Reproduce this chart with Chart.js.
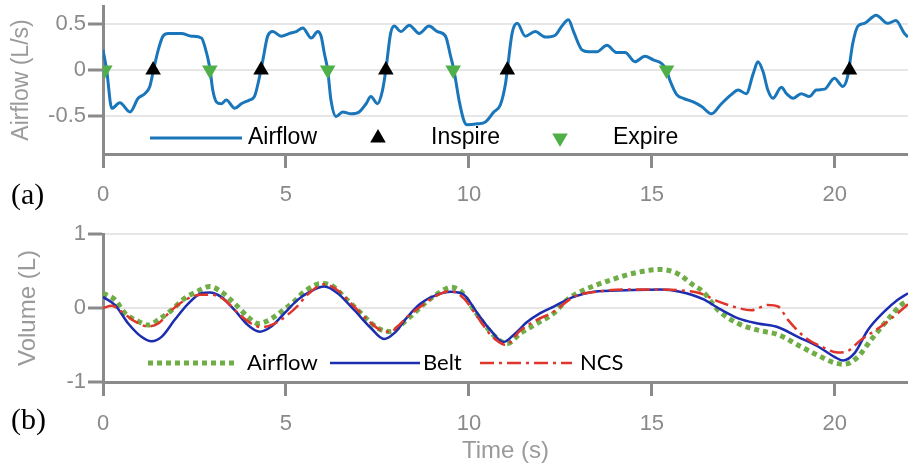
<!DOCTYPE html>
<html>
<head>
<meta charset="utf-8">
<script src="https://cdn.jsdelivr.net/npm/chart.js@4.4.0/dist/chart.umd.min.js"></script>
<style>
  html, body { margin: 0; padding: 0; background: #fff; }
  #wrap { position: relative; width: 908px; height: 468px; overflow: hidden; }
  canvas { position: absolute; left: 0; }
  #top { top: 0; }
  #bottom { top: 215px; }
  .panel { position: absolute; left: 11px; font-family: "Liberation Serif", "Times New Roman", serif; font-size: 30px; line-height: 1; color: #000; }
</style>
</head>
<body>
<div id="wrap">
  <canvas id="top" width="908" height="215"></canvas>
  <canvas id="bottom" width="908" height="253"></canvas>
  <div class="panel" style="top:179px">(a)</div>
  <div class="panel" style="top:404px">(b)</div>
</div>
<script>
// (a) airflow, L/s
const flowTime = [0, 0.1, 0.24, 0.46, 0.74, 0.96, 1.14, 1.28, 1.37, 1.51, 1.64, 1.78, 2.14, 2.42, 2.69, 2.78, 2.92,
  3.0, 3.1, 3.23, 3.37, 3.6, 3.78, 4.0, 4.14, 4.28, 4.37, 4.5, 4.64, 4.87, 5.1, 5.28, 5.46, 5.69, 5.87, 5.96,
  6.05, 6.14, 6.23, 6.37, 6.55, 6.78, 7.0, 7.19, 7.32, 7.5, 7.64, 7.73, 7.86, 7.96, 8.14, 8.37, 8.64, 8.91,
  9.14, 9.36, 9.5, 9.59, 9.73, 9.86, 9.95, 10.23, 10.45, 10.68, 10.86, 11.0, 11.05, 11.18, 11.32, 11.54, 11.81,
  12.09, 12.36, 12.54, 12.72, 12.86, 13.09, 13.27, 13.5, 13.77, 14.04, 14.27, 14.54, 14.81, 15.04, 15.27, 15.4,
  15.49, 15.68, 15.86, 16.13, 16.36, 16.63, 16.9, 17.17, 17.36, 17.58, 17.77, 17.9, 18.04, 18.17, 18.31, 18.54,
  18.68, 18.86, 19.08, 19.31, 19.49, 19.72, 19.99, 20.22, 20.35, 20.49, 20.63, 20.81, 21.13, 21.44, 21.67, 21.9, 22.0];
const flowValues = [0.22, 0.0, -0.42, -0.36, -0.46, -0.31, -0.26, -0.18, -0.02, 0.22, 0.37, 0.40, 0.40, 0.37, 0.35, 0.26, 0.02,
  -0.22, -0.35, -0.37, -0.33, -0.42, -0.37, -0.33, -0.29, -0.07, 0.11, 0.37, 0.42, 0.37, 0.40, 0.42, 0.46, 0.35, 0.42, 0.37,
  0.18, 0.0, -0.33, -0.51, -0.46, -0.48, -0.46, -0.37, -0.29, -0.37, -0.22, 0.0, 0.40, 0.48, 0.42, 0.49, 0.40, 0.48,
  0.42, 0.37, 0.15, 0.0, -0.33, -0.55, -0.60, -0.59, -0.57, -0.46, -0.38, -0.15, 0.0, 0.40, 0.51, 0.37, 0.42,
  0.36, 0.38, 0.48, 0.55, 0.42, 0.22, 0.20, 0.20, 0.27, 0.19, 0.19, 0.09, 0.15, 0.11, 0.07, 0.0,
  -0.11, -0.27, -0.31, -0.35, -0.40, -0.48, -0.37, -0.27, -0.22, -0.26, -0.04, 0.09, -0.02, -0.22, -0.31, -0.19,
  -0.26, -0.31, -0.26, -0.29, -0.22, -0.21, -0.09, -0.18, -0.07, 0.29, 0.48, 0.51, 0.60, 0.51, 0.54, 0.40, 0.36];
const inspireTime = [1.37, 4.32, 7.73, 11.05, 20.4];
const inspireValues = [0, 0, 0, 0, 0];
const expireTime = [0.05, 2.92, 6.14, 9.57, 15.4];
const expireValues = [0, 0, 0, 0, 0];

// (b) volume, L
const airVolTime = [0, 0.33, 0.6, 0.96, 1.23, 1.51, 1.87, 2.23, 2.6, 2.92, 3.23, 3.6, 3.96, 4.23, 4.55, 4.87, 5.23,
  5.5, 5.96, 6.23, 6.59, 7.05, 7.5, 7.87, 8.14, 8.5, 8.86, 9.23, 9.5, 9.77, 10.14, 10.5, 10.82, 11.05, 11.41,
  11.86, 12.32, 12.68, 13.13, 13.77, 14.5, 15.22, 15.68, 16.13, 16.4, 16.81, 17.36, 17.9, 18.45, 18.99, 19.54,
  19.99, 20.26, 20.63, 20.99, 21.44, 21.81, 22.0];
const airVolValues = [0.2, 0.11, -0.07, -0.18, -0.23, -0.16, -0.03, 0.13, 0.23, 0.29, 0.22, 0.06, -0.12, -0.21, -0.16, -0.05, 0.09,
  0.22, 0.33, 0.31, 0.15, -0.07, -0.27, -0.32, -0.23, -0.07, 0.09, 0.22, 0.28, 0.23, -0.03, -0.27, -0.43, -0.48, -0.34,
  -0.21, -0.07, 0.11, 0.24, 0.36, 0.47, 0.52, 0.47, 0.31, 0.22, -0.03, -0.21, -0.30, -0.36, -0.50, -0.64,
  -0.74, -0.76, -0.66, -0.43, -0.16, 0.04, 0.10];
const beltTime = [0, 0.33, 0.69, 1.05, 1.33, 1.6, 1.96, 2.33, 2.69, 2.92, 3.23, 3.6, 3.96, 4.28, 4.6, 4.96, 5.32,
  5.59, 6.05, 6.41, 6.87, 7.32, 7.68, 7.96, 8.32, 8.68, 9.14, 9.5, 9.86, 10.23, 10.59, 10.95, 11.23, 11.59, 11.95,
  12.32, 12.86, 13.41, 14.31, 15.22, 15.77, 16.4, 16.81, 17.36, 17.9, 18.45, 18.99, 19.54, 19.99, 20.22, 20.54,
  20.9, 21.35, 21.72, 22.0];
const beltValues = [0.15, 0.04, -0.21, -0.39, -0.45, -0.39, -0.16, 0.06, 0.2, 0.21, 0.15, -0.03, -0.23, -0.32, -0.25, -0.07, 0.11,
  0.2, 0.29, 0.2, -0.03, -0.27, -0.42, -0.34, -0.12, 0.06, 0.18, 0.22, 0.18, -0.07, -0.3, -0.46, -0.36, -0.19, -0.07,
  0.02, 0.15, 0.22, 0.24, 0.25, 0.22, 0.12, 0.0, -0.14, -0.21, -0.26, -0.39, -0.52, -0.66, -0.71, -0.61,
  -0.3, -0.05, 0.11, 0.2];
const ncsTime = [0, 0.24, 0.51, 0.87, 1.23, 1.51, 1.87, 2.33, 2.69, 2.96, 3.32, 3.69, 4.05, 4.32, 4.69, 5.05, 5.32,
  5.59, 6.05, 6.41, 6.78, 7.23, 7.59, 7.87, 8.05, 8.32, 8.68, 9.05, 9.5, 9.86, 10.23, 10.59, 10.82, 11.0, 11.41,
  11.86, 12.32, 12.86, 13.5, 14.31, 15.22, 15.77, 16.31, 16.81, 17.36, 17.72, 18.17, 18.45, 18.72, 19.17, 19.63,
  20.08, 20.31, 20.72, 21.26, 21.72, 22.0];
const ncsValues = [0.0, 0.03, -0.05, -0.18, -0.25, -0.21, -0.03, 0.13, 0.18, 0.18, 0.11, -0.07, -0.21, -0.26, -0.21, -0.09, 0.03,
  0.18, 0.32, 0.24, 0.06, -0.16, -0.3, -0.32, -0.25, -0.12, 0.02, 0.15, 0.23, 0.13, -0.12, -0.36, -0.46, -0.5, -0.3,
  -0.16, -0.05, 0.15, 0.22, 0.25, 0.25, 0.24, 0.2, 0.09, 0.0, -0.03, 0.04, 0.02, -0.16, -0.39, -0.52,
  -0.6, -0.59, -0.43, -0.25, -0.07, 0.05];

const timeTicks = [0, 5, 10, 15, 20];
const flowTicks = [-0.5, 0, 0.5];
const volumeTicks = [-1, 0, 1];

const GREY = '#8a8a8a';
const SANS = '"Liberation Sans", Arial, sans-serif';

function pts(ts, vs) {
  return ts.map((t, i) => ({ x: t, y: vs[i] }));
}

function triangle(ctx, x, y, r, down, color) {
  const s = down ? -1 : 1;
  ctx.beginPath();
  ctx.moveTo(x, y - s * r);
  ctx.lineTo(x + r * 0.866, y + s * r * 0.5);
  ctx.lineTo(x - r * 0.866, y + s * r * 0.5);
  ctx.closePath();
  ctx.fillStyle = color;
  ctx.fill();
}

// legend drawn inside the plot, matlab style
const panelLegend = {
  id: 'panelLegend',
  afterDatasetsDraw(chart, args, opts) {
    const ctx = chart.ctx;
    const y = opts.y;
    ctx.save();
    opts.items.forEach(it => {
      if (it.mark === 'line') {
        ctx.beginPath();
        ctx.setLineDash(it.dash || []);
        ctx.lineCap = 'butt';
        ctx.strokeStyle = it.color;
        ctx.lineWidth = it.width;
        ctx.moveTo(it.x0, y);
        ctx.lineTo(it.x1, y);
        ctx.stroke();
        ctx.setLineDash([]);
      } else {
        triangle(ctx, it.x0, y, 9, it.mark === 'down', it.color);
      }
      ctx.fillStyle = '#000';
      ctx.font = opts.font;
      ctx.textBaseline = 'middle';
      ctx.textAlign = 'left';
      ctx.fillText(it.text, it.tx, y);
    });
    ctx.restore();
  }
};

function xAxis(height, pad, title) {
  return {
    type: 'linear', min: 0, max: 22,
    afterBuildTicks: s => { s.ticks = timeTicks.map(v => ({ value: v })); },
    afterFit: s => { s.height = height; s.paddingLeft = 0; s.paddingRight = 0; },
    border: { color: GREY, width: 3 },
    grid: { drawOnChartArea: false, tickLength: 14, tickWidth: 3, tickColor: GREY },
    ticks: { color: GREY, font: { family: SANS, size: 22 }, padding: pad, maxRotation: 0 },
    title: title
      ? { display: true, text: title, color: '#9a9a9a', font: { family: SANS, size: 24 }, padding: { top: 0, bottom: 2 } }
      : { display: false }
  };
}

function yAxis(min, max, ticks, title, titleSize, titlePad) {
  return {
    min: min, max: max,
    afterBuildTicks: s => { s.ticks = ticks.map(v => ({ value: v })); },
    afterFit: s => { s.width = 103; s.paddingTop = 0; s.paddingBottom = 0; },
    border: { color: GREY, width: 3 },
    grid: { color: '#e6e6e6', lineWidth: 2, tickLength: 15, tickWidth: 3, tickColor: GREY },
    ticks: { color: GREY, font: { family: SANS, size: 22 }, padding: 2 },
    title: { display: true, text: title, color: '#9a9a9a', font: { family: SANS, size: titleSize }, padding: { top: titlePad } }
  };
}

new Chart(document.getElementById('top'), {
  type: 'line',
  data: {
    datasets: [
      {
        label: 'Airflow', data: pts(flowTime, flowValues), order: 1,
        borderColor: '#1a76bb', borderWidth: 3, pointRadius: 0, cubicInterpolationMode: 'monotone'
      },
      {
        label: 'Inspire', data: pts(inspireTime, inspireValues), order: 0, showLine: false,
        pointStyle: 'triangle', pointRadius: 9, pointBorderWidth: 0, backgroundColor: '#000', borderColor: '#000'
      },
      {
        label: 'Expire', data: pts(expireTime, expireValues), order: 0, showLine: false,
        pointStyle: 'triangle', pointRotation: 180, pointRadius: 9, pointBorderWidth: 0,
        backgroundColor: '#4fb04a', borderColor: '#4fb04a'
      }
    ]
  },
  options: {
    responsive: false, animation: false, devicePixelRatio: 1,
    layout: { autoPadding: false, padding: { top: 6, left: 0, right: 0, bottom: 0 } },
    plugins: {
      legend: { display: false }, tooltip: { enabled: false },
      panelLegend: {
        y: 138, font: '23px ' + SANS,
        items: [
          { mark: 'line', x0: 150, x1: 242, color: '#1a76bb', width: 3, text: 'Airflow', tx: 248 },
          { mark: 'up', x0: 378, color: '#000', text: 'Inspire', tx: 431 },
          { mark: 'down', x0: 560, color: '#4fb04a', text: 'Expire', tx: 613 }
        ]
      }
    },
    scales: {
      x: xAxis(61, 14, null),
      y: yAxis(-0.92, 0.7, flowTicks, 'Airflow (L/s)', 23, 8)
    }
  },
  plugins: [panelLegend]
});

new Chart(document.getElementById('bottom'), {
  type: 'line',
  data: {
    datasets: [
      {
        label: 'Airflow', data: pts(airVolTime, airVolValues), order: 2,
        borderColor: '#70ad47', borderWidth: 5, borderDash: [5, 4], borderCapStyle: 'butt',
        pointRadius: 0, cubicInterpolationMode: 'monotone'
      },
      {
        label: 'Belt', data: pts(beltTime, beltValues), order: 1,
        borderColor: '#1c2db0', borderWidth: 2.5, pointRadius: 0, cubicInterpolationMode: 'monotone'
      },
      {
        label: 'NCS', data: pts(ncsTime, ncsValues), order: 0,
        borderColor: '#e0352a', borderWidth: 2.5, borderDash: [14, 5, 3, 5], pointRadius: 0,
        cubicInterpolationMode: 'monotone'
      }
    ]
  },
  options: {
    responsive: false, animation: false, devicePixelRatio: 1,
    layout: { autoPadding: false, padding: { top: 19, left: 0, right: 0, bottom: 0 } },
    plugins: {
      legend: { display: false }, tooltip: { enabled: false },
      panelLegend: {
        y: 148, font: '22px Lato, "Open Sans", sans-serif',
        items: [
          { mark: 'line', x0: 148, x1: 235, color: '#70ad47', width: 5, dash: [5, 4], text: 'Airflow', tx: 247 },
          { mark: 'line', x0: 330, x1: 420, color: '#1c2db0', width: 2.5, text: 'Belt', tx: 423 },
          { mark: 'line', x0: 480, x1: 572, color: '#e0352a', width: 2.5, dash: [14, 5, 3, 5], text: 'NCS', tx: 580 }
        ]
      }
    },
    scales: {
      x: xAxis(86, 15, 'Time (s)'),
      y: yAxis(-1, 1, volumeTicks, 'Volume (L)', 24, 14)
    }
  },
  plugins: [panelLegend]
});
</script>
</body>
</html>
